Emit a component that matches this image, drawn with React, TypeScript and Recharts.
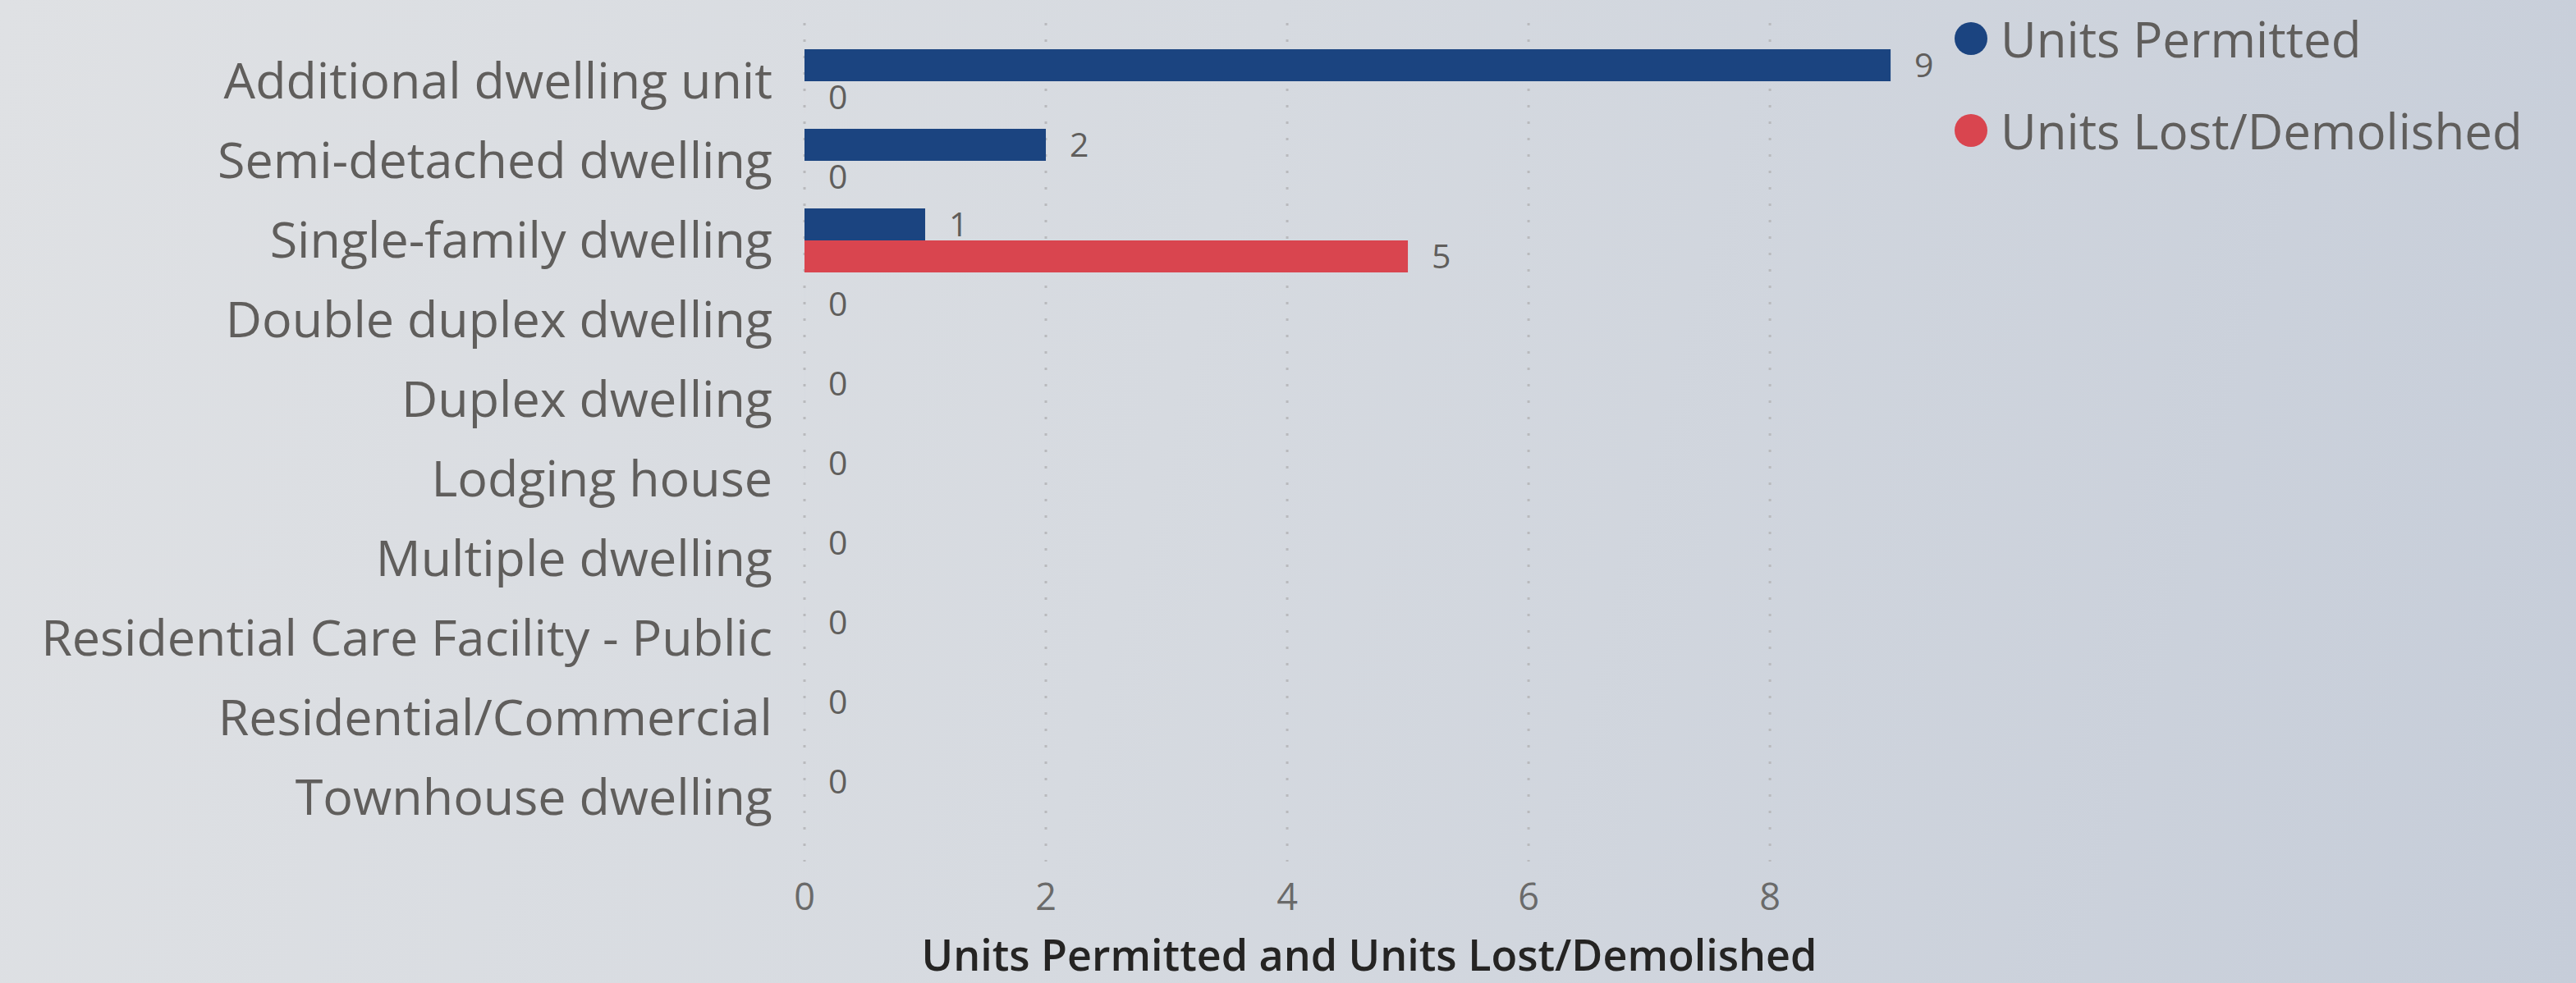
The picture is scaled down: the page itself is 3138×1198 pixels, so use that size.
import React from 'react';
import { BarChart, Bar, XAxis, YAxis, CartesianGrid, LabelList } from 'recharts';

const categories = [
  'Additional dwelling unit',
  'Semi-detached dwelling',
  'Single-family dwelling',
  'Double duplex dwelling',
  'Duplex dwelling',
  'Lodging house',
  'Multiple dwelling',
  'Residential Care Facility - Public',
  'Residential/Commercial',
  'Townhouse dwelling',
];
const unitsPermitted: (number | null)[] = [9, 2, 1, 0, 0, 0, 0, 0, 0, 0];
const unitsLost: (number | null)[] = [0, 0, 5, null, null, null, null, null, null, null];
const xTicks = [0, 2, 4, 6, 8];
const xDomain = [0, 9.36];
const seriesNames = ['Units Permitted', 'Units Lost/Demolished'];
const seriesColors = ['#1B4480', '#D9454F'];
const axisTitle = 'Units Permitted and Units Lost/Demolished';

const data = categories.map((c, i) => ({
  category: c,
  permitted: unitsPermitted[i],
  lost: unitsLost[i],
}));

const FONT = '"Open Sans", "Noto Sans", sans-serif';

const renderValueLabel = (props: any) => {
  const { x, y, width, height, value } = props;
  if (value === null || value === undefined || Number.isNaN(Number(x))) return null;
  return (
    <text
      x={Number(x) + Number(width) + 29}
      y={Number(y) + Number(height) / 2}
      dy="0.355em"
      textAnchor="start"
      fontSize={41}
      fontFamily={FONT}
      fill="#605E5C"
    >
      {value}
    </text>
  );
};

const tinyForZero = (value: any) => (value === 0 ? 0.01 : 0);

const gridX = (props: any) => {
  const scale = props?.xAxis?.scale;
  if (typeof scale === 'function') return xTicks.map((t) => scale(t));
  if (scale && typeof scale.map === 'function') return xTicks.map((t) => scale.map(t));
  const off = props?.offset;
  if (off) {
    return xTicks.map((t) => off.left + ((t - xDomain[0]) / (xDomain[1] - xDomain[0])) * off.width);
  }
  return [];
};

export default function App() {
  return (
    <div
      style={{
        position: 'absolute',
        left: 0,
        top: 0,
        width: 3138,
        height: 1198,
        overflow: 'hidden',
        background: 'linear-gradient(105deg, #dfe1e4 0%, #d6dae0 45%, #c6cdd9 100%)',
        fontFamily: FONT,
      }}
    >
      <BarChart
        width={3138}
        height={1198}
        data={data}
        layout="vertical"
        margin={{ top: 28, right: 782, bottom: 0, left: 0 }}
        barSize={39}
        barGap={0}
      >
        <CartesianGrid
          horizontal={false}
          vertical={true}
          verticalCoordinatesGenerator={gridX}
          stroke="#b9babd"
          strokeWidth={3}
          strokeDasharray="3 17"
        />
        <XAxis
          type="number"
          domain={xDomain}
          ticks={xTicks}
          axisLine={false}
          tickLine={false}
          tickSize={0}
          tickMargin={27}
          height={148}
          tick={{ fontSize: 45, fill: '#6a6a6a', fontFamily: FONT }}
          label={{
            value: axisTitle,
            position: 'insideBottom',
            offset: 15,
            fontSize: 52,
            fontWeight: 600,
            fill: '#252423',
            fontFamily: FONT,
          }}
        />
        <YAxis
          type="category"
          dataKey="category"
          width={980}
          axisLine={false}
          tickLine={false}
          tickSize={0}
          tickMargin={39}
          interval={0}
          padding={{ top: 22, bottom: 30 }}
          tick={{ fontSize: 61, fill: '#605E5C', fontFamily: FONT }}
        />
        <Bar
          dataKey="permitted"
          name={seriesNames[0]}
          fill={seriesColors[0]}
          minPointSize={tinyForZero}
          isAnimationActive={false}
        >
          <LabelList dataKey="permitted" content={renderValueLabel} />
        </Bar>
        <Bar
          dataKey="lost"
          name={seriesNames[1]}
          fill={seriesColors[1]}
          minPointSize={tinyForZero}
          isAnimationActive={false}
        >
          <LabelList dataKey="lost" content={renderValueLabel} />
        </Bar>
      </BarChart>
      {seriesNames.map((name, i) => (
        <div
          key={name}
          style={{
            position: 'absolute',
            left: 2381,
            top: 17 + i * 112,
            height: 60,
            display: 'flex',
            alignItems: 'center',
            whiteSpace: 'nowrap',
          }}
        >
          <div
            style={{
              width: 40,
              height: 40,
              borderRadius: 20,
              background: seriesColors[i],
              marginRight: 16,
            }}
          />
          <span style={{ fontSize: 60, lineHeight: '60px', color: '#605E5C' }}>{name}</span>
        </div>
      ))}
    </div>
  );
}
